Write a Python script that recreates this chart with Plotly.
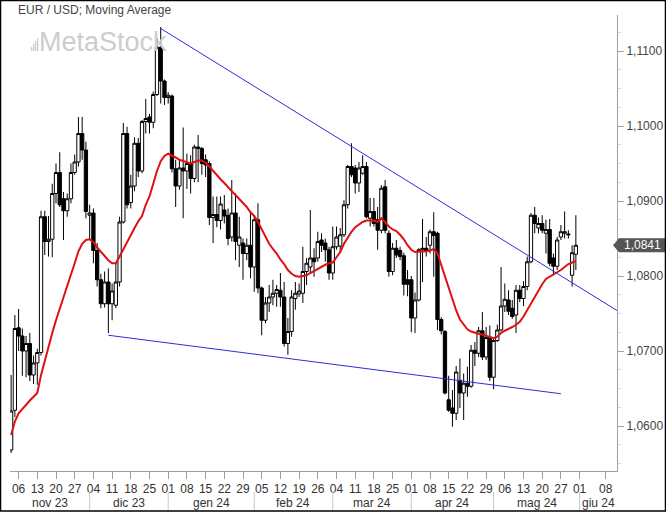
import pandas as pd
import plotly.graph_objects as go

# ---------------- data ----------------
TITLE = "EUR / USD; Moving Average"
WATERMARK = "MetaStock"
START_DATE = "2023-11-02"
END_DATE = "2024-05-31"

opens = [
    1.0568, 1.0621, 1.0731, 1.0720, 1.0700, 1.0710, 1.0668, 1.0684, 1.0698, 1.0879,
    1.0846, 1.0849, 1.0910, 1.0938, 1.0903, 1.0887, 1.0903, 1.0938, 1.0952, 1.0990,
    1.0968, 1.0881, 1.0884, 1.0834, 1.0795, 1.0763, 1.0792, 1.0763, 1.0761, 1.0792,
    1.0872, 1.0990, 1.0898, 1.0920, 1.0977, 1.0940, 1.1006, 1.1012, 1.1005, 1.1042,
    1.1105, 1.1060, 1.1038, 1.1040, 1.0943, 1.0920, 1.0944, 1.0940, 1.0950, 1.0930,
    1.0972, 1.0970, 1.0955, 1.0950, 1.0878, 1.0882, 1.0874, 1.0888, 1.0881, 1.0852,
    1.0884, 1.0841, 1.0844, 1.0830, 1.0841, 1.0812, 1.0875, 1.0784, 1.0741, 1.0764,
    1.0772, 1.0777, 1.0781, 1.0772, 1.0710, 1.0726, 1.0770, 1.0776, 1.0777, 1.0806,
    1.0812, 1.0824, 1.0824, 1.0848, 1.0844, 1.0835, 1.0804, 1.0839, 1.0840, 1.0855,
    1.0895, 1.0946, 1.0944, 1.0924, 1.0937, 1.0946, 1.0877, 1.0886, 1.0875, 1.0861,
    1.0919, 1.0857, 1.0806, 1.0837, 1.0834, 1.0827, 1.0795, 1.0795, 1.0744, 1.0768,
    1.0835, 1.0837, 1.0841, 1.0859, 1.0857, 1.0742, 1.0726, 1.0635, 1.0624, 1.0617,
    1.0661, 1.0644, 1.0657, 1.0653, 1.0701, 1.0697, 1.0727, 1.0692, 1.0718, 1.0665,
    1.0714, 1.0728, 1.0760, 1.0768, 1.0757, 1.0748, 1.0781, 1.0770, 1.0786, 1.0819,
    1.0881, 1.0864, 1.0870, 1.0857, 1.0862, 1.0824, 1.0813, 1.0852, 1.0857, 1.0856,
    1.0801, 1.0829,
]
highs = [
    1.0668, 1.0748, 1.0756, 1.0730, 1.0720, 1.0724, 1.0694, 1.0703, 1.0887, 1.0887,
    1.0880, 1.0923, 1.0950, 1.0965, 1.0912, 1.0910, 1.0950, 1.0962, 1.1012, 1.1012,
    1.0979, 1.0895, 1.0890, 1.0844, 1.0803, 1.0806, 1.0810, 1.0790, 1.0817, 1.0879,
    1.1004, 1.0999, 1.0935, 1.0985, 1.0984, 1.1008, 1.1036, 1.1016, 1.1046, 1.1117,
    1.1132, 1.1062, 1.1045, 1.1042, 1.0955, 1.0955, 1.0998, 1.0963, 1.0961, 1.0975,
    1.0988, 1.0972, 1.0962, 1.0953, 1.0906, 1.0906, 1.0906, 1.0908, 1.0890, 1.0928,
    1.0910, 1.0879, 1.0850, 1.0850, 1.0884, 1.0881, 1.0897, 1.0786, 1.0772, 1.0788,
    1.0795, 1.0788, 1.0804, 1.0792, 1.0744, 1.0781, 1.0792, 1.0790, 1.0839, 1.0824,
    1.0888, 1.0837, 1.0859, 1.0857, 1.0850, 1.0839, 1.0866, 1.0866, 1.0864, 1.0901,
    1.0948, 1.0977, 1.0948, 1.0952, 1.0961, 1.0952, 1.0904, 1.0904, 1.0892, 1.0921,
    1.0928, 1.0861, 1.0844, 1.0848, 1.0839, 1.0831, 1.0808, 1.0800, 1.0778, 1.0837,
    1.0876, 1.0852, 1.0862, 1.0885, 1.0859, 1.0745, 1.0728, 1.0667, 1.0648, 1.0680,
    1.0690, 1.0670, 1.0679, 1.0708, 1.0712, 1.0732, 1.0752, 1.0732, 1.0734, 1.0718,
    1.0735, 1.0812, 1.0790, 1.0781, 1.0768, 1.0788, 1.0788, 1.0793, 1.0826, 1.0884,
    1.0892, 1.0878, 1.0881, 1.0875, 1.0876, 1.0830, 1.0852, 1.0868, 1.0886, 1.0861,
    1.0841, 1.0881,
]
lows = [
    1.0564, 1.0612, 1.0700, 1.0667, 1.0665, 1.0660, 1.0656, 1.0655, 1.0694, 1.0828,
    1.0826, 1.0825, 1.0897, 1.0892, 1.0848, 1.0879, 1.0897, 1.0935, 1.0946, 1.0955,
    1.0877, 1.0848, 1.0817, 1.0786, 1.0757, 1.0758, 1.0724, 1.0741, 1.0757, 1.0786,
    1.0870, 1.0890, 1.0890, 1.0913, 1.0932, 1.0937, 1.0990, 1.0990, 1.0997, 1.1040,
    1.1030, 1.1028, 1.1030, 1.0938, 1.0892, 1.0915, 1.0877, 1.0916, 1.0910, 1.0925,
    1.0925, 1.0935, 1.0932, 1.0868, 1.0844, 1.0865, 1.0862, 1.0870, 1.0841, 1.0846,
    1.0821, 1.0812, 1.0795, 1.0821, 1.0797, 1.0779, 1.0777, 1.0721, 1.0737, 1.0752,
    1.0761, 1.0759, 1.0759, 1.0706, 1.0695, 1.0719, 1.0755, 1.0772, 1.0764, 1.0788,
    1.0804, 1.0799, 1.0819, 1.0832, 1.0819, 1.0795, 1.0795, 1.0835, 1.0832, 1.0852,
    1.0890, 1.0932, 1.0910, 1.0912, 1.0935, 1.0877, 1.0866, 1.0866, 1.0835, 1.0857,
    1.0857, 1.0799, 1.0801, 1.0824, 1.0821, 1.0774, 1.0773, 1.0725, 1.0724, 1.0766,
    1.0792, 1.0826, 1.0830, 1.0799, 1.0728, 1.0722, 1.0642, 1.0619, 1.0599, 1.0608,
    1.0624, 1.0608, 1.0639, 1.0651, 1.0680, 1.0692, 1.0688, 1.0688, 1.0660, 1.0649,
    1.0712, 1.0726, 1.0752, 1.0748, 1.0743, 1.0724, 1.0765, 1.0760, 1.0781, 1.0817,
    1.0857, 1.0857, 1.0857, 1.0830, 1.0813, 1.0801, 1.0808, 1.0848, 1.0850, 1.0850,
    1.0786, 1.0808,
]
closes = [
    1.0620, 1.0730, 1.0720, 1.0700, 1.0710, 1.0668, 1.0684, 1.0698, 1.0879, 1.0846,
    1.0849, 1.0910, 1.0938, 1.0895, 1.0887, 1.0903, 1.0938, 1.0952, 1.0990, 1.0968,
    1.0886, 1.0884, 1.0834, 1.0795, 1.0763, 1.0792, 1.0763, 1.0780, 1.0792, 1.0872,
    1.0990, 1.0895, 1.0920, 1.0977, 1.0940, 1.1006, 1.1010, 1.1005, 1.1042, 1.1105,
    1.1060, 1.1038, 1.1041, 1.0943, 1.0920, 1.0944, 1.0940, 1.0950, 1.0930, 1.0972,
    1.0970, 1.0950, 1.0948, 1.0878, 1.0882, 1.0874, 1.0896, 1.0880, 1.0850, 1.0884,
    1.0846, 1.0852, 1.0830, 1.0841, 1.0812, 1.0875, 1.0784, 1.0741, 1.0764, 1.0772,
    1.0777, 1.0782, 1.0772, 1.0710, 1.0726, 1.0772, 1.0777, 1.0780, 1.0806, 1.0817,
    1.0824, 1.0819, 1.0846, 1.0841, 1.0835, 1.0804, 1.0839, 1.0852, 1.0855, 1.0895,
    1.0946, 1.0935, 1.0924, 1.0944, 1.0946, 1.0879, 1.0886, 1.0870, 1.0861, 1.0917,
    1.0861, 1.0806, 1.0837, 1.0828, 1.0826, 1.0789, 1.0789, 1.0744, 1.0768, 1.0835,
    1.0837, 1.0833, 1.0859, 1.0854, 1.0742, 1.0727, 1.0644, 1.0621, 1.0617, 1.0672,
    1.0644, 1.0657, 1.0653, 1.0701, 1.0697, 1.0727, 1.0692, 1.0718, 1.0665, 1.0714,
    1.0728, 1.0760, 1.0769, 1.0753, 1.0746, 1.0781, 1.0770, 1.0786, 1.0819, 1.0881,
    1.0870, 1.0870, 1.0861, 1.0862, 1.0817, 1.0813, 1.0848, 1.0859, 1.0859, 1.0855,
    1.0831, 1.0841,
]
moving_average = [
    1.0588, 1.0606, 1.0617, 1.0623, 1.0629, 1.0634, 1.0639, 1.0644, 1.0668, 1.0688,
    1.0706, 1.0724, 1.0741, 1.0757, 1.0771, 1.0786, 1.0802, 1.0817, 1.0833, 1.0843,
    1.0848, 1.0849, 1.0845, 1.0838, 1.0832, 1.0826, 1.0821, 1.0817, 1.0817, 1.0826,
    1.0836, 1.0845, 1.0855, 1.0864, 1.0873, 1.0880, 1.0895, 1.0906, 1.0923, 1.0940,
    1.0953, 1.0960, 1.0963, 1.0961, 1.0958, 1.0955, 1.0953, 1.0951, 1.0950, 1.0952,
    1.0954, 1.0954, 1.0951, 1.0946, 1.0940, 1.0934, 1.0929, 1.0924, 1.0918, 1.0913,
    1.0908, 1.0903, 1.0897, 1.0892, 1.0885, 1.0880, 1.0872, 1.0862, 1.0853, 1.0843,
    1.0836, 1.0830, 1.0822, 1.0816, 1.0808, 1.0803, 1.0800, 1.0799, 1.0800, 1.0801,
    1.0804, 1.0807, 1.0809, 1.0812, 1.0815, 1.0817, 1.0818, 1.0825, 1.0832, 1.0843,
    1.0852, 1.0859, 1.0865, 1.0869, 1.0872, 1.0874, 1.0874, 1.0874, 1.0872, 1.0877,
    1.0872, 1.0866, 1.0862, 1.0860, 1.0855, 1.0849, 1.0841, 1.0835, 1.0832, 1.0832,
    1.0832, 1.0833, 1.0834, 1.0836, 1.0830, 1.0815, 1.0798, 1.0785, 1.0768, 1.0754,
    1.0742, 1.0735, 1.0729, 1.0726, 1.0724, 1.0723, 1.0722, 1.0720, 1.0718, 1.0717,
    1.0719, 1.0724, 1.0727, 1.0729, 1.0732, 1.0735, 1.0739, 1.0746, 1.0755, 1.0764,
    1.0772, 1.0782, 1.0789, 1.0796, 1.0799, 1.0801, 1.0804, 1.0808, 1.0812, 1.0816,
    1.0818, 1.0820,
]
last_value = 1.0841
last_value_label = "1,0841"

# trend lines (date, value) anchor points
upper_line_dates = ["2023-12-28", "2024-06-11"]
upper_line_values = [1.1130, 1.0754]
lower_line_dates = ["2023-12-08", "2024-05-27"]
lower_line_values = [1.0721, 1.0643]

# axis ticks
tick_dates = [
    "2023-11-06", "2023-11-13", "2023-11-20", "2023-11-27",
    "2023-12-04", "2023-12-11", "2023-12-18", "2023-12-25",
    "2024-01-01", "2024-01-08", "2024-01-15", "2024-01-22", "2024-01-29",
    "2024-02-05", "2024-02-12", "2024-02-19", "2024-02-26",
    "2024-03-04", "2024-03-11", "2024-03-18", "2024-03-25",
    "2024-04-01", "2024-04-08", "2024-04-15", "2024-04-22", "2024-04-29",
    "2024-05-06", "2024-05-13", "2024-05-20", "2024-05-27",
    "2024-06-01", "2024-06-08",
]
tick_labels = [
    "06", "13", "20", "27", "04", "11", "18", "25",
    "01", "08", "15", "22", "29", "05", "12", "19", "26",
    "04", "11", "18", "25", "01", "08", "15", "22", "29",
    "06", "13", "20", "27", "01", "08",
]
month_starts = ["2023-12-01", "2024-01-01", "2024-02-01", "2024-03-01",
                "2024-04-01", "2024-05-01", "2024-06-01"]
month_labels = ["nov 23", "dic 23", "gen 24", "feb 24", "mar 24", "apr 24",
                "mag 24", "giu 24"]
y_tick_values = [1.06, 1.07, 1.08, 1.09, 1.10, 1.11]
y_tick_labels = ["1,0600", "1,0700", "1,0800", "1,0900", "1,1000", "1,1100"]

# ---------------- layout constants ----------------
W, H = 666, 512
ML, MR, MT, MB = 10, 49, 15, 41
PW, PH = W - ML - MR, H - MT - MB
X_RANGE = [-0.3, 162.0]
Y_RANGE = [1.0540, 1.1148]
FONT = "Liberation Sans, Arial, sans-serif"

dates = pd.bdate_range(START_DATE, END_DATE)
assert len(dates) == len(closes) == len(opens) == len(highs) == len(lows) == len(moving_average)
keys = [d.strftime("%Y-%m-%d") for d in dates]
positions = list(range(len(dates)))


def slot(s):
    if s in keys:
        return keys.index(s)
    d = pd.Timestamp(s)
    return len(dates) - 1 + (d - dates[-1]).days


def px(x):  # pixel x -> paper x
    return (x - ML) / PW


def py(y):  # pixel y -> paper y
    return (H - MB - y) / PH


fig = go.Figure()

fig.add_trace(go.Candlestick(
    x=positions, open=opens, high=highs, low=lows, close=closes,
    increasing=dict(line=dict(color="black", width=1), fillcolor="white"),
    decreasing=dict(line=dict(color="black", width=1), fillcolor="black"),
    whiskerwidth=0, hoverinfo="skip", showlegend=False,
))

fig.add_trace(go.Scatter(
    x=positions, y=moving_average, mode="lines",
    line=dict(color="#e01010", width=2), hoverinfo="skip", showlegend=False,
))

fig.add_trace(go.Scatter(
    x=[slot(d) for d in upper_line_dates], y=upper_line_values, mode="lines",
    line=dict(color="#2d2ddc", width=1), hoverinfo="skip", showlegend=False,
))
fig.add_trace(go.Scatter(
    x=[slot(d) for d in lower_line_dates], y=lower_line_values, mode="lines",
    line=dict(color="#2d2ddc", width=1), hoverinfo="skip", showlegend=False,
))

shapes = []
annotations = []

# month separators and labels
sep_pos = [slot(d) for d in month_starts]
for p in sep_pos:
    shapes.append(dict(type="line", xref="x", yref="paper", x0=p, x1=p,
                       y0=py(492), y1=py(511), line=dict(color="#c8c8c8", width=1)))
bounds = [X_RANGE[0]] + sep_pos + [X_RANGE[1]]
for i, lab in enumerate(month_labels):
    annotations.append(dict(x=(bounds[i] + bounds[i + 1]) / 2, y=py(503), xref="x", yref="paper",
                            text=lab, showarrow=False, xanchor="center", yanchor="middle",
                            font=dict(family=FONT, size=12, color="#333333")))

# title
annotations.append(dict(x=px(16), y=py(10), xref="paper", yref="paper", text=TITLE,
                        showarrow=False, xanchor="left", yanchor="middle",
                        font=dict(family=FONT, size=12, color="#444444")))
# watermark
annotations.append(dict(x=px(37), y=py(42), xref="paper", yref="paper", text=WATERMARK,
                        showarrow=False, xanchor="left", yanchor="middle",
                        font=dict(family=FONT, size=27, color="#cdcdcd")))
for bx, bh in zip([31.0, 33.0, 35.0, 37.0], [4, 7, 10, 13]):
    shapes.append(dict(type="rect", xref="paper", yref="paper", x0=px(bx), x1=px(bx + 1.3),
                       y0=py(51), y1=py(51 - bh), line=dict(width=0), fillcolor="#cdcdcd",
                       layer="below"))

# last value marker
hh = 7 / (PH / (Y_RANGE[1] - Y_RANGE[0]))
path = (f"M {px(613)},{last_value} L {px(619)},{last_value + hh} L {px(667)},{last_value + hh} "
        f"L {px(667)},{last_value - hh} L {px(619)},{last_value - hh} Z")
shapes.append(dict(type="path", xref="paper", yref="y", path=path,
                   fillcolor="#555555", line=dict(width=0)))
annotations.append(dict(x=px(642), y=last_value, xref="paper", yref="y", text=last_value_label,
                        showarrow=False, xanchor="center", yanchor="middle",
                        font=dict(family=FONT, size=12, color="white")))

# outer frame
shapes.append(dict(type="rect", xref="paper", yref="paper", x0=px(0.5), x1=px(665.5),
                   y0=py(511), y1=py(0.5), line=dict(color="black", width=1.5),
                   fillcolor="rgba(0,0,0,0)"))

minor_vals = []
k = 0
while True:
    v = round(1.0550 + 0.0025 * k, 4)
    if v > Y_RANGE[1]:
        break
    if round(v * 100, 6) != round(v * 100):
        minor_vals.append(v)
    k += 1

fig.update_layout(
    width=W, height=H,
    margin=dict(l=ML, r=MR, t=MT, b=MB, pad=0),
    paper_bgcolor="white", plot_bgcolor="white",
    showlegend=False,
    boxgap=0.12, boxgroupgap=0,
    font=dict(family=FONT, size=12, color="#333333"),
    xaxis=dict(
        range=X_RANGE, rangeslider=dict(visible=False),
        tickmode="array", tickvals=[slot(d) for d in tick_dates], ticktext=tick_labels,
        ticks="outside", ticklen=7, tickcolor="#a0a0a0", tickwidth=1,
        showline=True, linecolor="#a0a0a0", linewidth=1,
        showgrid=False, zeroline=False,
        tickfont=dict(family=FONT, size=12, color="#333333"),
        fixedrange=True, automargin=False,
    ),
    yaxis=dict(
        range=Y_RANGE, side="right",
        tickmode="array", tickvals=y_tick_values, ticktext=y_tick_labels,
        ticks="outside", ticklen=6, tickcolor="#a0a0a0", tickwidth=1,
        showline=True, linecolor="#a0a0a0", linewidth=1,
        showgrid=False, zeroline=False,
        tickfont=dict(family=FONT, size=12, color="#444444"),
        minor=dict(tickmode="array", tickvals=minor_vals, ticks="outside", ticklen=3,
                   tickcolor="#d8d8d8", showgrid=False),
        fixedrange=True, automargin=False,
    ),
    shapes=shapes,
    annotations=annotations,
)

fig.write_html(
    "out.html",
    config={"displayModeBar": False, "staticPlot": True},
    post_script="document.body.style.margin='0';document.body.style.padding='0';"
                "document.documentElement.style.margin='0';",
)
